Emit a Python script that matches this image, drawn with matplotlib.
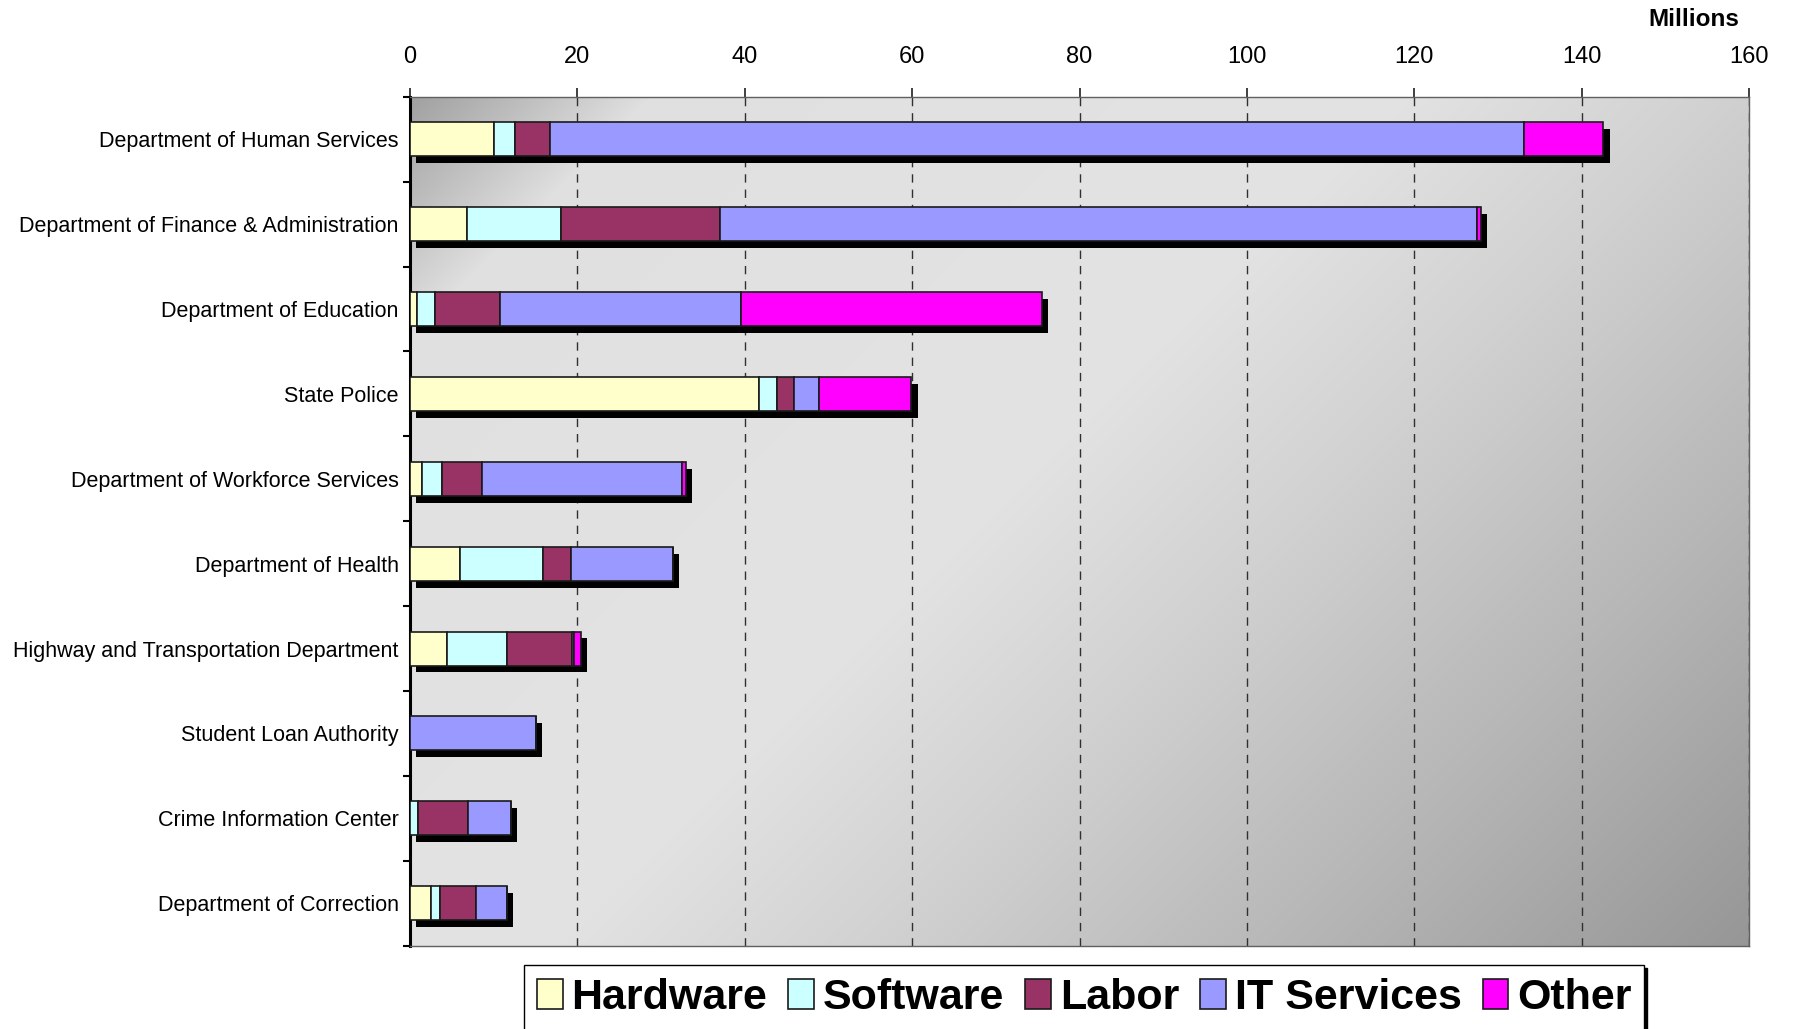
import numpy as np
import matplotlib
matplotlib.use("Agg")
import matplotlib.pyplot as plt
from matplotlib import transforms

plt.rcParams["font.family"] = ["Liberation Sans", "DejaVu Sans"]

# ---- data (millions) ----
departments = [
    "Department of Human Services",
    "Department of Finance & Administration",
    "Department of Education",
    "State Police",
    "Department of Workforce Services",
    "Department of Health",
    "Highway and Transportation Department",
    "Student Loan Authority",
    "Crime Information Center",
    "Department of Correction",
]
hardware    = [10.0, 6.8, 0.8, 41.7, 1.4, 6.0, 4.4, 0.0, 0.0, 2.5]
software    = [2.5, 11.2, 2.2, 2.1, 2.4, 9.9, 7.2, 0.0, 0.9, 1.1]
labor       = [4.2, 19.0, 7.8, 2.1, 4.8, 3.3, 7.7, 0.0, 6.0, 4.3]
it_services = [116.4, 90.5, 28.7, 3.0, 23.9, 12.2, 0.3, 15.0, 5.2, 3.7]
other       = [9.5, 0.5, 36.0, 11.0, 0.5, 0.0, 0.8, 0.0, 0.0, 0.0]

series_names = ["Hardware", "Software", "Labor", "IT Services", "Other"]
series_vals = [hardware, software, labor, it_services, other]
series_colors = ["#FFFFCC", "#CCFFFF", "#993366", "#9999FF", "#FF00FF"]

n = len(departments)
y = np.arange(n)
bar_h = 0.40

fig = plt.figure(figsize=(17.95, 10.29), dpi=100)
ax = fig.add_axes([0.2284, 0.081, 0.9744 - 0.2284, 0.906 - 0.081])

# ---- gradient background (dark corners top-left / bottom-right) ----
W, H = 500, 320
xx, yy = np.meshgrid(np.linspace(0, 1, W), np.linspace(0, 1, H))
d = (xx * 1339 + yy * 849) / (1339 + 849)
shade = np.interp(d, [0.0, 0.05, 0.11, 0.45, 0.6, 0.8, 1.0],
                  [0.63, 0.74, 0.88, 0.89, 0.82, 0.71, 0.59])
ax.imshow(np.dstack([shade, shade, shade]), extent=(0, 160, n - 0.5, -0.5),
          aspect="auto", zorder=0, interpolation="bilinear")

# ---- shadows behind each stacked bar ----
totals = np.sum(np.array(series_vals), axis=0)
shadow_tr = transforms.offset_copy(ax.transData, fig=fig, x=4.5, y=-5, units="points")
ax.barh(y, totals, height=bar_h, color="black", edgecolor="black",
        linewidth=0, transform=shadow_tr, zorder=2)

# ---- stacked bars ----
left = np.zeros(n)
for name, vals, col in zip(series_names, series_vals, series_colors):
    vals = np.array(vals)
    ax.barh(y, vals, left=left, height=bar_h, color=col, edgecolor="#1a1a1a",
            linewidth=1.2, label=name, zorder=3)
    left += vals

ax.set_xlim(0, 160)
ax.set_ylim(n - 0.5, -0.5)

# grid
ax.set_axisbelow(True)
ax.xaxis.grid(True, linestyle=(0, (6, 5)), color="#303030", linewidth=1.0, zorder=1)
ax.yaxis.grid(False)

# x axis on top
ax.xaxis.tick_top()
ax.set_xticks(np.arange(0, 161, 20))
ax.tick_params(axis="x", which="major", direction="out", length=6.5, width=1.2,
               labelsize=17, pad=14, color="#202020")

# y ticks: marks at boundaries, labels at centers
ax.set_yticks(np.arange(-0.5, n, 1.0))
ax.set_yticklabels([])
ax.set_yticks(y, labels=departments, minor=True)
ax.tick_params(axis="y", which="major", direction="out", length=5, width=1.5)
ax.tick_params(axis="y", which="minor", length=0, pad=8, labelsize=15.5)

for s in ["top", "right", "bottom"]:
    ax.spines[s].set_color("#606060")
    ax.spines[s].set_linewidth(1.0)
ax.spines["left"].set_color("black")
ax.spines["left"].set_linewidth(2.2)

fig.text(1694 / 1795, 1 - 19 / 1029, "Millions", fontsize=17.5, fontweight="bold",
         ha="center", va="center")

leg = fig.legend(loc="upper left", bbox_to_anchor=(524 / 1795, 1 - 965 / 1029),
                 ncol=5, frameon=True, fancybox=False,
                 prop={"size": 31, "weight": "bold"},
                 handlelength=0.6, handleheight=0.7, handletextpad=0.2,
                 columnspacing=0.49, borderpad=0.3, borderaxespad=0,
                 shadow={"color": "black", "alpha": 1})
leg.get_frame().set_edgecolor("black")
leg.get_frame().set_linewidth(1.0)
leg.get_frame().set_facecolor("white")

fig.savefig("out.png", dpi=100, facecolor="white")
plt.close(fig)
